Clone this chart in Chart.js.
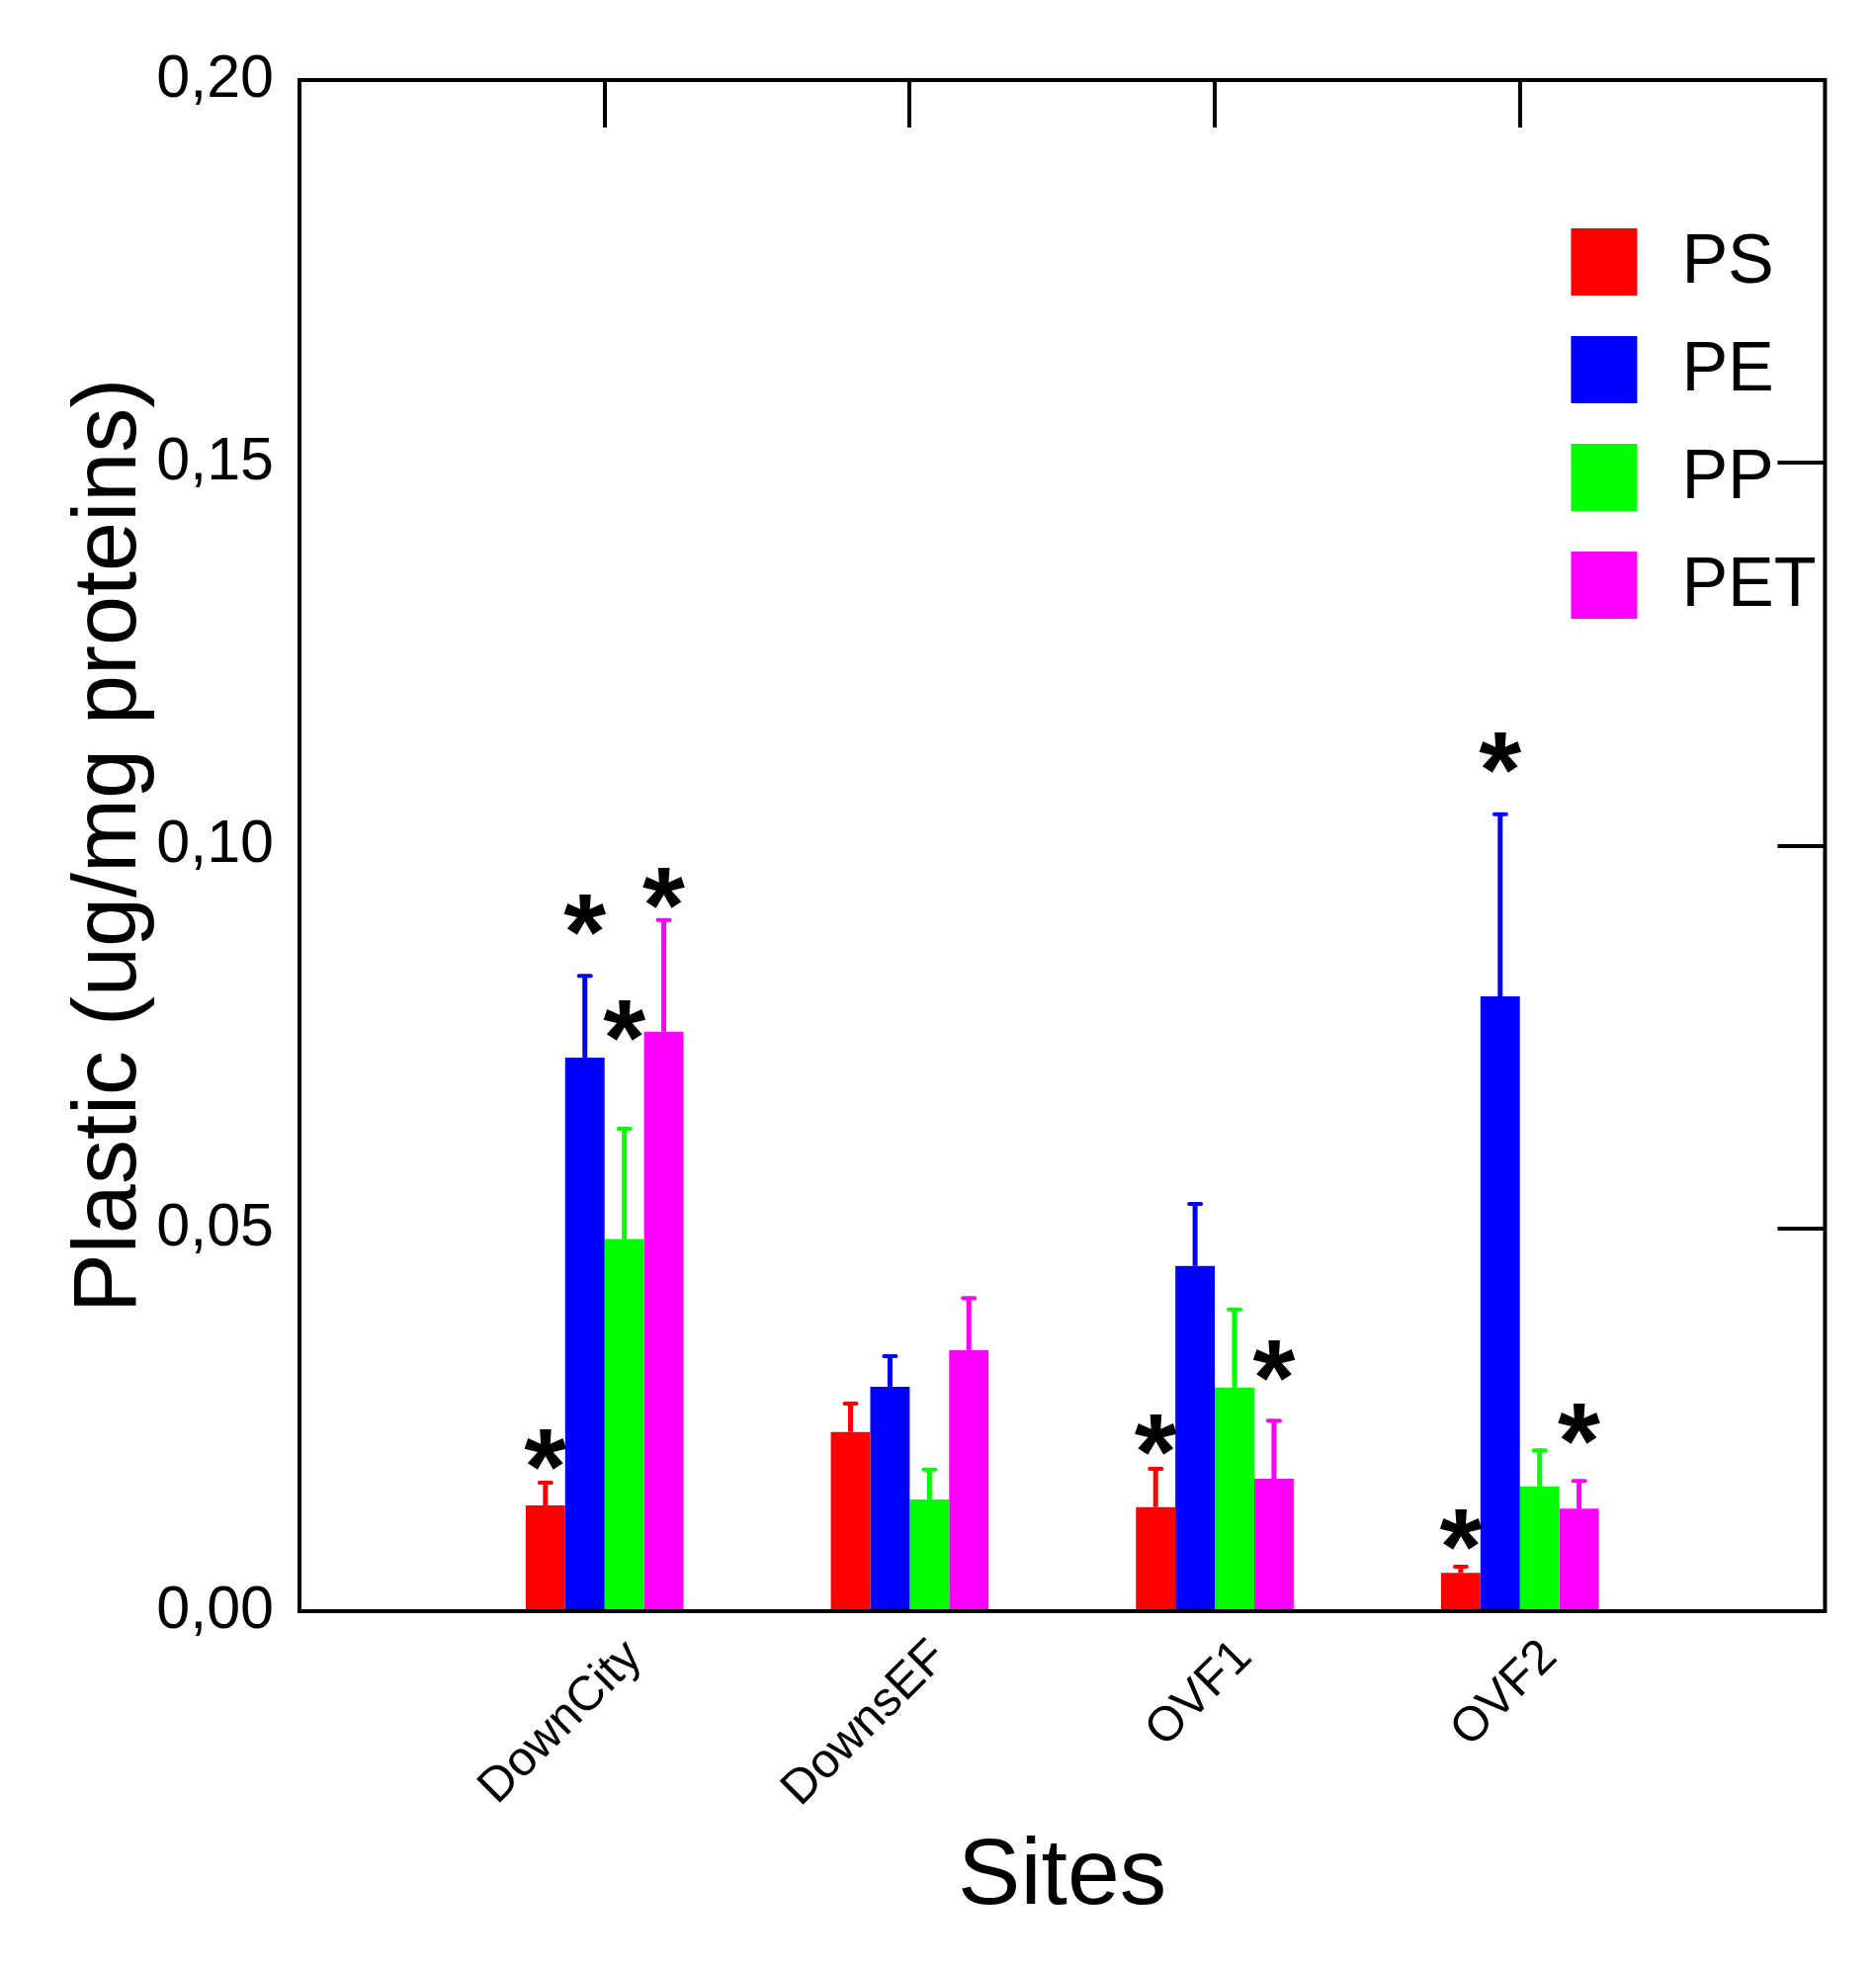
<!DOCTYPE html>
<html>
<head>
<meta charset="utf-8">
<script src="https://cdn.jsdelivr.net/npm/chart.js@4.4.1/dist/chart.umd.min.js"></script>
<style>
  html, body { margin: 0; padding: 0; background: #fff; }
  canvas { display: block; }
</style>
</head>
<body>
<canvas id="myChart" width="1898" height="1992"></canvas>
<script>
// sites (empty slots at both ends keep the 5-slot spacing of the original plot)
const sites = ['', 'DownCity', 'DownsEF', 'OVF1', 'OVF2', ''];

// means
const ps  = [null, 0.0138, 0.0234, 0.0136, 0.0050, null];
const pe  = [null, 0.0723, 0.0293, 0.0451, 0.0803, null];
const pp  = [null, 0.0486, 0.0146, 0.0292, 0.0163, null];
const pet = [null, 0.0757, 0.0341, 0.0173, 0.0134, null];

// upper error (SD)
const psErr  = [null, 0.0030, 0.0037, 0.0050, 0.0008, null];
const peErr  = [null, 0.0107, 0.0040, 0.0081, 0.0238, null];
const ppErr  = [null, 0.0144, 0.0039, 0.0102, 0.0047, null];
const petErr = [null, 0.0146, 0.0068, 0.0076, 0.0036, null];

// where the significance asterisks sit (value units), null = no asterisk
const psStar  = [null, 0.0211, null, 0.0230, 0.0107, null];
const peStar  = [null, 0.0910, null, null,   0.1121, null];
const ppStar  = [null, 0.0772, null, null,   null,   null];
const petStar = [null, 0.0945, null, 0.0327, 0.0245, null];

const yTicks = [0, 0.05, 0.10, 0.15, 0.20];

const FONT = "'Liberation Sans', Arial, Helvetica, sans-serif";

const data = {
    labels: sites,
    datasets: [
        { label: 'PS',  data: ps,  err: psErr,  stars: psStar,  backgroundColor: '#ff0000' },
        { label: 'PE',  data: pe,  err: peErr,  stars: peStar,  backgroundColor: '#0000ff' },
        { label: 'PP',  data: pp,  err: ppErr,  stars: ppStar,  backgroundColor: '#00ff00' },
        { label: 'PET', data: pet, err: petErr, stars: petStar, backgroundColor: '#ff00ff' }
    ]
};

// error bars, asterisks, frame with inside ticks, legend
const extras = {
    id: 'extras',
    afterDatasetsDraw(chart) {
        const ctx = chart.ctx;
        const y = chart.scales.y;
        ctx.save();
        chart.data.datasets.forEach((ds, i) => {
            const meta = chart.getDatasetMeta(i);
            meta.data.forEach((bar, j) => {
                if (ds.data[j] == null) return;
                const top = y.getPixelForValue(ds.data[j] + ds.err[j]);
                ctx.strokeStyle = ds.backgroundColor;
                ctx.lineWidth = 5;
                ctx.lineCap = 'butt';
                ctx.beginPath();
                ctx.moveTo(bar.x, bar.y);
                ctx.lineTo(bar.x, top);
                ctx.stroke();
                ctx.lineWidth = 4;
                ctx.lineCap = 'round';
                ctx.beginPath();
                ctx.moveTo(bar.x - 6, top);
                ctx.lineTo(bar.x + 6, top);
                ctx.stroke();
            });
        });

        // asterisks
        ctx.fillStyle = '#000';
        ctx.textAlign = 'left';
        ctx.textBaseline = 'alphabetic';
        ctx.font = 'bold 100px ' + FONT;
        let m = ctx.measureText('*');
        const size = 100 * 43 / (m.actualBoundingBoxLeft + m.actualBoundingBoxRight);
        ctx.font = 'bold ' + size.toFixed(1) + 'px ' + FONT;
        m = ctx.measureText('*');
        const gw = m.actualBoundingBoxLeft + m.actualBoundingBoxRight;
        const gh = m.actualBoundingBoxAscent + m.actualBoundingBoxDescent;
        chart.data.datasets.forEach((ds, i) => {
            const meta = chart.getDatasetMeta(i);
            meta.data.forEach((bar, j) => {
                if (ds.stars[j] == null) return;
                const cy = y.getPixelForValue(ds.stars[j]);
                const x0 = bar.x - gw / 2 + m.actualBoundingBoxLeft;
                const y0 = cy - gh / 2 + m.actualBoundingBoxAscent;
                ctx.fillText('*', x0, y0);
            });
        });
        ctx.restore();
    },
    afterDraw(chart) {
        const ctx = chart.ctx;
        const a = chart.chartArea;
        const x = chart.scales.x;
        const y = chart.scales.y;
        ctx.save();
        ctx.strokeStyle = '#000';
        ctx.lineWidth = 4;
        ctx.lineCap = 'square';
        ctx.strokeRect(a.left, a.top, a.right - a.left, a.bottom - a.top);

        // inward ticks on top and right edges
        ctx.lineCap = 'butt';
        ctx.beginPath();
        for (let i = 1; i < sites.length - 1; i++) {
            const px = Math.round(x.getPixelForValue(i));
            ctx.moveTo(px, a.top);
            ctx.lineTo(px, a.top + 48);
        }
        yTicks.slice(1, -1).forEach(v => {
            const py = Math.round(y.getPixelForValue(v));
            ctx.moveTo(a.right, py);
            ctx.lineTo(a.right - 48, py);
        });
        ctx.stroke();

        // legend
        const lx = a.right - 257;
        ctx.font = '70px ' + FONT;
        ctx.textAlign = 'left';
        ctx.textBaseline = 'middle';
        chart.data.datasets.forEach((ds, i) => {
            const ty = a.top + 150 + i * 109;
            ctx.fillStyle = ds.backgroundColor;
            ctx.fillRect(lx, ty, 67, 68);
            ctx.fillStyle = '#000';
            ctx.fillText(ds.label, lx + 112, ty + 36);
        });
        ctx.restore();
    }
};

const config = {
    type: 'bar',
    data: data,
    options: {
        responsive: false,
        animation: false,
        devicePixelRatio: 1,
        layout: { padding: { top: 81, right: 36, left: 0, bottom: 0 } },
        datasets: {
            bar: { barPercentage: 1.0, categoryPercentage: 0.517, borderWidth: 0 }
        },
        plugins: {
            legend: { display: false },
            tooltip: { enabled: false }
        },
        scales: {
            x: {
                offset: false,
                grid: { display: false },
                border: { display: false },
                ticks: {
                    autoSkip: false,
                    minRotation: 45,
                    maxRotation: 45,
                    padding: 10,
                    labelOffset: 30,
                    color: '#000',
                    font: { family: FONT, size: 49 }
                },
                title: {
                    display: true,
                    text: 'Sites',
                    color: '#000',
                    font: { family: FONT, size: 95, lineHeight: 1 },
                    padding: { top: 0, bottom: 45 }
                },
                afterFit(scale) { scale.height = 362; }
            },
            y: {
                min: 0,
                max: 0.2,
                grid: { display: false },
                border: { display: false },
                afterBuildTicks(scale) { scale.ticks = yTicks.map(v => ({ value: v })); },
                ticks: {
                    padding: 18,
                    color: '#000',
                    font: { family: FONT, size: 61 },
                    callback: v => v.toFixed(2).replace('.', ',')
                },
                title: {
                    display: true,
                    text: 'Plastic (ug/mg proteins)',
                    color: '#000',
                    font: { family: FONT, size: 90, lineHeight: 1 },
                    padding: { top: 67, bottom: 0 }
                },
                afterFit(scale) { scale.width = 303; }
            }
        }
    },
    plugins: [extras]
};

new Chart(document.getElementById('myChart'), config);
</script>
</body>
</html>
